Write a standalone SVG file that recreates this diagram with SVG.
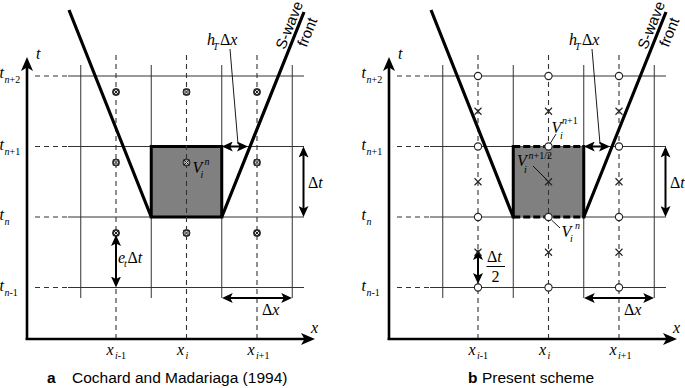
<svg xmlns="http://www.w3.org/2000/svg" width="685" height="388" viewBox="0 0 685 388">
<style>
.grid{stroke:#333;stroke-width:1;fill:none}
.dash{stroke:#333;stroke-width:1.1;stroke-dasharray:5 4;fill:none}
.wave{stroke:#000;stroke-width:3.2;fill:none}
.axis{stroke:#000;stroke-width:2.6;fill:none}
.dim{stroke:#000;stroke-width:2;fill:none}
.lead{stroke:#000;stroke-width:0.9;fill:none}
.m{font-family:"Liberation Serif","Times New Roman",serif;font-style:italic;font-size:16px;fill:#000}
.s{font-size:10px}
.u{font-style:normal}
.cap{font-family:"Liberation Sans",Arial,sans-serif;font-size:15.5px;fill:#000}
.lab{font-family:"Liberation Sans",Arial,sans-serif;font-size:15px;fill:#000}
.node{fill:#fff;stroke:#222;stroke-width:1.1}
.cross{stroke:#222;stroke-width:1.1;fill:none}
.cell{fill:#808080}
</style>
<defs>
<marker id="ah" viewBox="0 0 11 10" refX="8" refY="5" markerWidth="11" markerHeight="10" markerUnits="userSpaceOnUse" orient="auto-start-reverse"><path d="M0,0L11,5L0,10L2.5,5Z" fill="#000"/></marker>
<marker id="axh" viewBox="0 0 14 12" refX="10" refY="6" markerWidth="14" markerHeight="12" markerUnits="userSpaceOnUse" orient="auto"><path d="M0,0L14,6L0,12L3.5,6Z" fill="#000"/></marker>
<g id="cm"><circle r="3.5" fill="#ddd" stroke="#222" stroke-width="1"/><rect x="-2.6" y="-2.6" width="5.2" height="5.2" fill="none" stroke="#222" stroke-width="1"/><path d="M-2.6,-2.6L2.6,2.6M-2.6,2.6L2.6,-2.6" stroke="#222" stroke-width="1"/></g>
<g id="oc"><circle r="3.6" class="node"/></g>
<g id="xm"><path d="M-3.5,-3.5L3.5,3.5M-3.5,3.5L3.5,-3.5" class="cross"/></g>
</defs>

<!-- Panel a -->
<g id="panel-a">
  <g id="grid-a">
    <path class="grid" d="M68,76H304M68,146.5H304M68,217H304M68,287.5H304M80.75,65V298M151.25,65V298M221.75,65V298M292.25,65V298"/>
    <path class="dash" d="M35,76H68M35,146.5H68M35,217H68M35,287.5H68"/>
  </g>
  <g id="cell-a">
    <rect class="cell" x="151.25" y="146.5" width="70.5" height="70.5" stroke="#000" stroke-width="3"/>
  </g>
  <path id="xlines-a" class="dash" d="M116,55V339M186.5,55V339M257,55V339"/>
  <g id="wavefront-a">
    <path class="wave" d="M69,10L151.25,217M221.75,217L304,12"/>
    <text class="lab" text-anchor="middle" transform="translate(294,27) rotate(-68.2)">S-wave</text>
    <text class="lab" text-anchor="middle" transform="translate(312,34) rotate(-68.2)">front</text>
  </g>
  <g id="axes-a">
    <line class="axis" x1="27" y1="340" x2="27" y2="61" marker-end="url(#axh)"/>
    <line class="axis" x1="25.7" y1="339" x2="311" y2="339" marker-end="url(#axh)"/>
  </g>
  <g id="points-a">
    <use href="#cm" x="116" y="92"/><use href="#cm" x="186.5" y="92"/><use href="#cm" x="257" y="92"/>
    <use href="#cm" x="116" y="162.5"/><use href="#cm" x="186.5" y="162.5"/><use href="#cm" x="257" y="162.5"/>
    <use href="#cm" x="116" y="233"/><use href="#cm" x="186.5" y="233"/><use href="#cm" x="257" y="233"/>
  </g>
  <g id="connectors-a">
    <line class="dim" x1="303.5" y1="149.5" x2="303.5" y2="214" marker-start="url(#ah)" marker-end="url(#ah)"/>
    <line class="dim" x1="224.75" y1="298" x2="289.25" y2="298" marker-start="url(#ah)" marker-end="url(#ah)"/>
    <line class="dim" x1="224.75" y1="146.5" x2="245" y2="146.5" marker-start="url(#ah)" marker-end="url(#ah)"/>
    <line class="dim" x1="116" y1="238" x2="116" y2="284.5" marker-start="url(#ah)" marker-end="url(#ah)"/>
    <path class="lead" d="M230,49L238,144"/>
  </g>
  <g id="labels-a">
    <text class="m" x="36" y="59">t</text>
    <text class="m" x="311" y="333">x</text>
    <text class="m" x="-0.5" y="78">t<tspan class="s" x="4.5" y="83">n</tspan><tspan class="s u">+2</tspan></text>
    <text class="m" x="-0.5" y="149.5">t<tspan class="s" x="4.5" y="154.5">n</tspan><tspan class="s u">+1</tspan></text>
    <text class="m" x="-0.5" y="220">t<tspan class="s" x="4.5" y="225">n</tspan></text>
    <text class="m" x="-0.5" y="290.5">t<tspan class="s" x="4.5" y="295.5">n</tspan><tspan class="s u">-1</tspan></text>
    <text class="m" x="106.5" y="355">x<tspan class="s" x="115" y="359">i</tspan><tspan class="s u">-1</tspan></text>
    <text class="m" x="177" y="355">x<tspan class="s" x="185.5" y="359">i</tspan></text>
    <text class="m" x="247.5" y="355">x<tspan class="s" x="256" y="359">i</tspan><tspan class="s u">+1</tspan></text>
    <text class="m" x="207" y="45">h<tspan class="s" x="213" y="50">T</tspan><tspan class="u" x="220" y="45">Δ</tspan>x</text>
    <text class="m" x="308" y="188"><tspan class="u">Δ</tspan>t</text>
    <text class="m" x="262" y="315"><tspan class="u">Δ</tspan>x</text>
    <text class="m" x="118" y="263">e<tspan class="s" x="124" y="267">t</tspan><tspan class="u" x="127.5" y="263">Δ</tspan>t</text>
    <text class="m" x="192.5" y="173">V<tspan class="s" x="204.5" y="165">n</tspan><tspan class="s" x="200.5" y="178">i</tspan></text>
  </g>
</g>

<!-- Panel b -->
<g id="panel-b" transform="translate(362,0)">
  <g id="grid-b">
    <path class="grid" d="M68,76H304M68,146.5H304M68,217H304M68,287.5H304M80.75,65V298M151.25,65V298M221.75,65V298M292.25,65V298"/>
    <path class="dash" d="M35,76H68M35,146.5H68M35,217H68M35,287.5H68"/>
  </g>
  <g id="cell-b">
    <rect class="cell" x="151.25" y="146.5" width="70.5" height="70.5"/>
    <path d="M151.25,145V218.5M221.75,145V218.5" stroke="#000" stroke-width="3" fill="none"/>
    <path d="M151.25,146.5H221.75M151.25,217H221.75" stroke="#000" stroke-width="3" stroke-dasharray="7 3" fill="none"/>
  </g>
  <path id="xlines-b" class="dash" d="M116,55V339M186.5,55V339M257,55V339"/>
  <g id="wavefront-b">
    <path class="wave" d="M69,10L151.25,217M221.75,217L304,12"/>
    <text class="lab" text-anchor="middle" transform="translate(294,27) rotate(-68.2)">S-wave</text>
    <text class="lab" text-anchor="middle" transform="translate(312,34) rotate(-68.2)">front</text>
  </g>
  <g id="axes-b">
    <line class="axis" x1="27" y1="340" x2="27" y2="61" marker-end="url(#axh)"/>
    <line class="axis" x1="25.7" y1="339" x2="311" y2="339" marker-end="url(#axh)"/>
  </g>
  <g id="connectors-b">
    <line class="dim" x1="303.5" y1="149.5" x2="303.5" y2="214" marker-start="url(#ah)" marker-end="url(#ah)"/>
    <line class="dim" x1="224.75" y1="298" x2="289.25" y2="298" marker-start="url(#ah)" marker-end="url(#ah)"/>
    <line class="dim" x1="224.75" y1="146.5" x2="245" y2="146.5" marker-start="url(#ah)" marker-end="url(#ah)"/>
    <line class="dim" x1="116" y1="252" x2="116" y2="281" marker-start="url(#ah)" marker-end="url(#ah)"/>
    <path class="lead" d="M230,49L238,144"/>
    <path class="lead" d="M194,134L188.5,143"/>
    <path class="lead" d="M171,166L184.5,179.5"/>
    <path class="lead" d="M189.5,220L198,228"/>
  </g>
  <g id="points-b">
    <use href="#xm" x="116" y="111.25"/><use href="#xm" x="186.5" y="111.25"/><use href="#xm" x="257" y="111.25"/>
    <use href="#xm" x="116" y="181.75"/><use href="#xm" x="186.5" y="181.75"/><use href="#xm" x="257" y="181.75"/>
    <use href="#xm" x="116" y="252.25"/><use href="#xm" x="186.5" y="252.25"/><use href="#xm" x="257" y="252.25"/>
    <use href="#oc" x="116" y="76"/><use href="#oc" x="186.5" y="76"/><use href="#oc" x="257" y="76"/>
    <use href="#oc" x="116" y="146.5"/><use href="#oc" x="186.5" y="146.5"/><use href="#oc" x="257" y="146.5"/>
    <use href="#oc" x="116" y="217"/><use href="#oc" x="186.5" y="217"/><use href="#oc" x="257" y="217"/>
    <use href="#oc" x="116" y="287.5"/><use href="#oc" x="186.5" y="287.5"/><use href="#oc" x="257" y="287.5"/>
  </g>
  <g id="labels-b">
    <text class="m" x="36" y="59">t</text>
    <text class="m" x="311" y="333">x</text>
    <text class="m" x="-0.5" y="78">t<tspan class="s" x="4.5" y="83">n</tspan><tspan class="s u">+2</tspan></text>
    <text class="m" x="-0.5" y="149.5">t<tspan class="s" x="4.5" y="154.5">n</tspan><tspan class="s u">+1</tspan></text>
    <text class="m" x="-0.5" y="220">t<tspan class="s" x="4.5" y="225">n</tspan></text>
    <text class="m" x="-0.5" y="290.5">t<tspan class="s" x="4.5" y="295.5">n</tspan><tspan class="s u">-1</tspan></text>
    <text class="m" x="106.5" y="355">x<tspan class="s" x="115" y="359">i</tspan><tspan class="s u">-1</tspan></text>
    <text class="m" x="177" y="355">x<tspan class="s" x="185.5" y="359">i</tspan></text>
    <text class="m" x="247.5" y="355">x<tspan class="s" x="256" y="359">i</tspan><tspan class="s u">+1</tspan></text>
    <text class="m" x="207" y="45">h<tspan class="s" x="213" y="50">T</tspan><tspan class="u" x="220" y="45">Δ</tspan>x</text>
    <text class="m" x="308" y="188"><tspan class="u">Δ</tspan>t</text>
    <text class="m" x="262" y="315"><tspan class="u">Δ</tspan>x</text>
    <text class="m" x="189.5" y="133">V<tspan class="s" x="200" y="124">n</tspan><tspan class="s u">+1</tspan><tspan class="s" x="198" y="139">i</tspan></text>
    <text class="m" x="155" y="166">V<tspan class="s" x="166.5" y="158.5">n</tspan><tspan class="s u">+1/2</tspan><tspan class="s" x="162" y="172.5">i</tspan></text>
    <text class="m" x="199.5" y="237">V<tspan class="s" x="213" y="229">n</tspan><tspan class="s" x="208" y="242">i</tspan></text>
    <text class="m" x="125" y="262"><tspan class="u">Δ</tspan>t</text>
    <path d="M124.5,266.5H143" stroke="#000" stroke-width="1"/>
    <text class="m u" x="129.5" y="281.5">2</text>
  </g>
</g>

<g id="captions">
  <text class="cap" x="47" y="383" font-weight="bold">a</text>
  <text class="cap" x="72" y="383">Cochard and Madariaga (1994)</text>
  <text class="cap" x="468" y="383" font-weight="bold">b</text>
  <text class="cap" x="482" y="383">Present scheme</text>
</g>
</svg>
